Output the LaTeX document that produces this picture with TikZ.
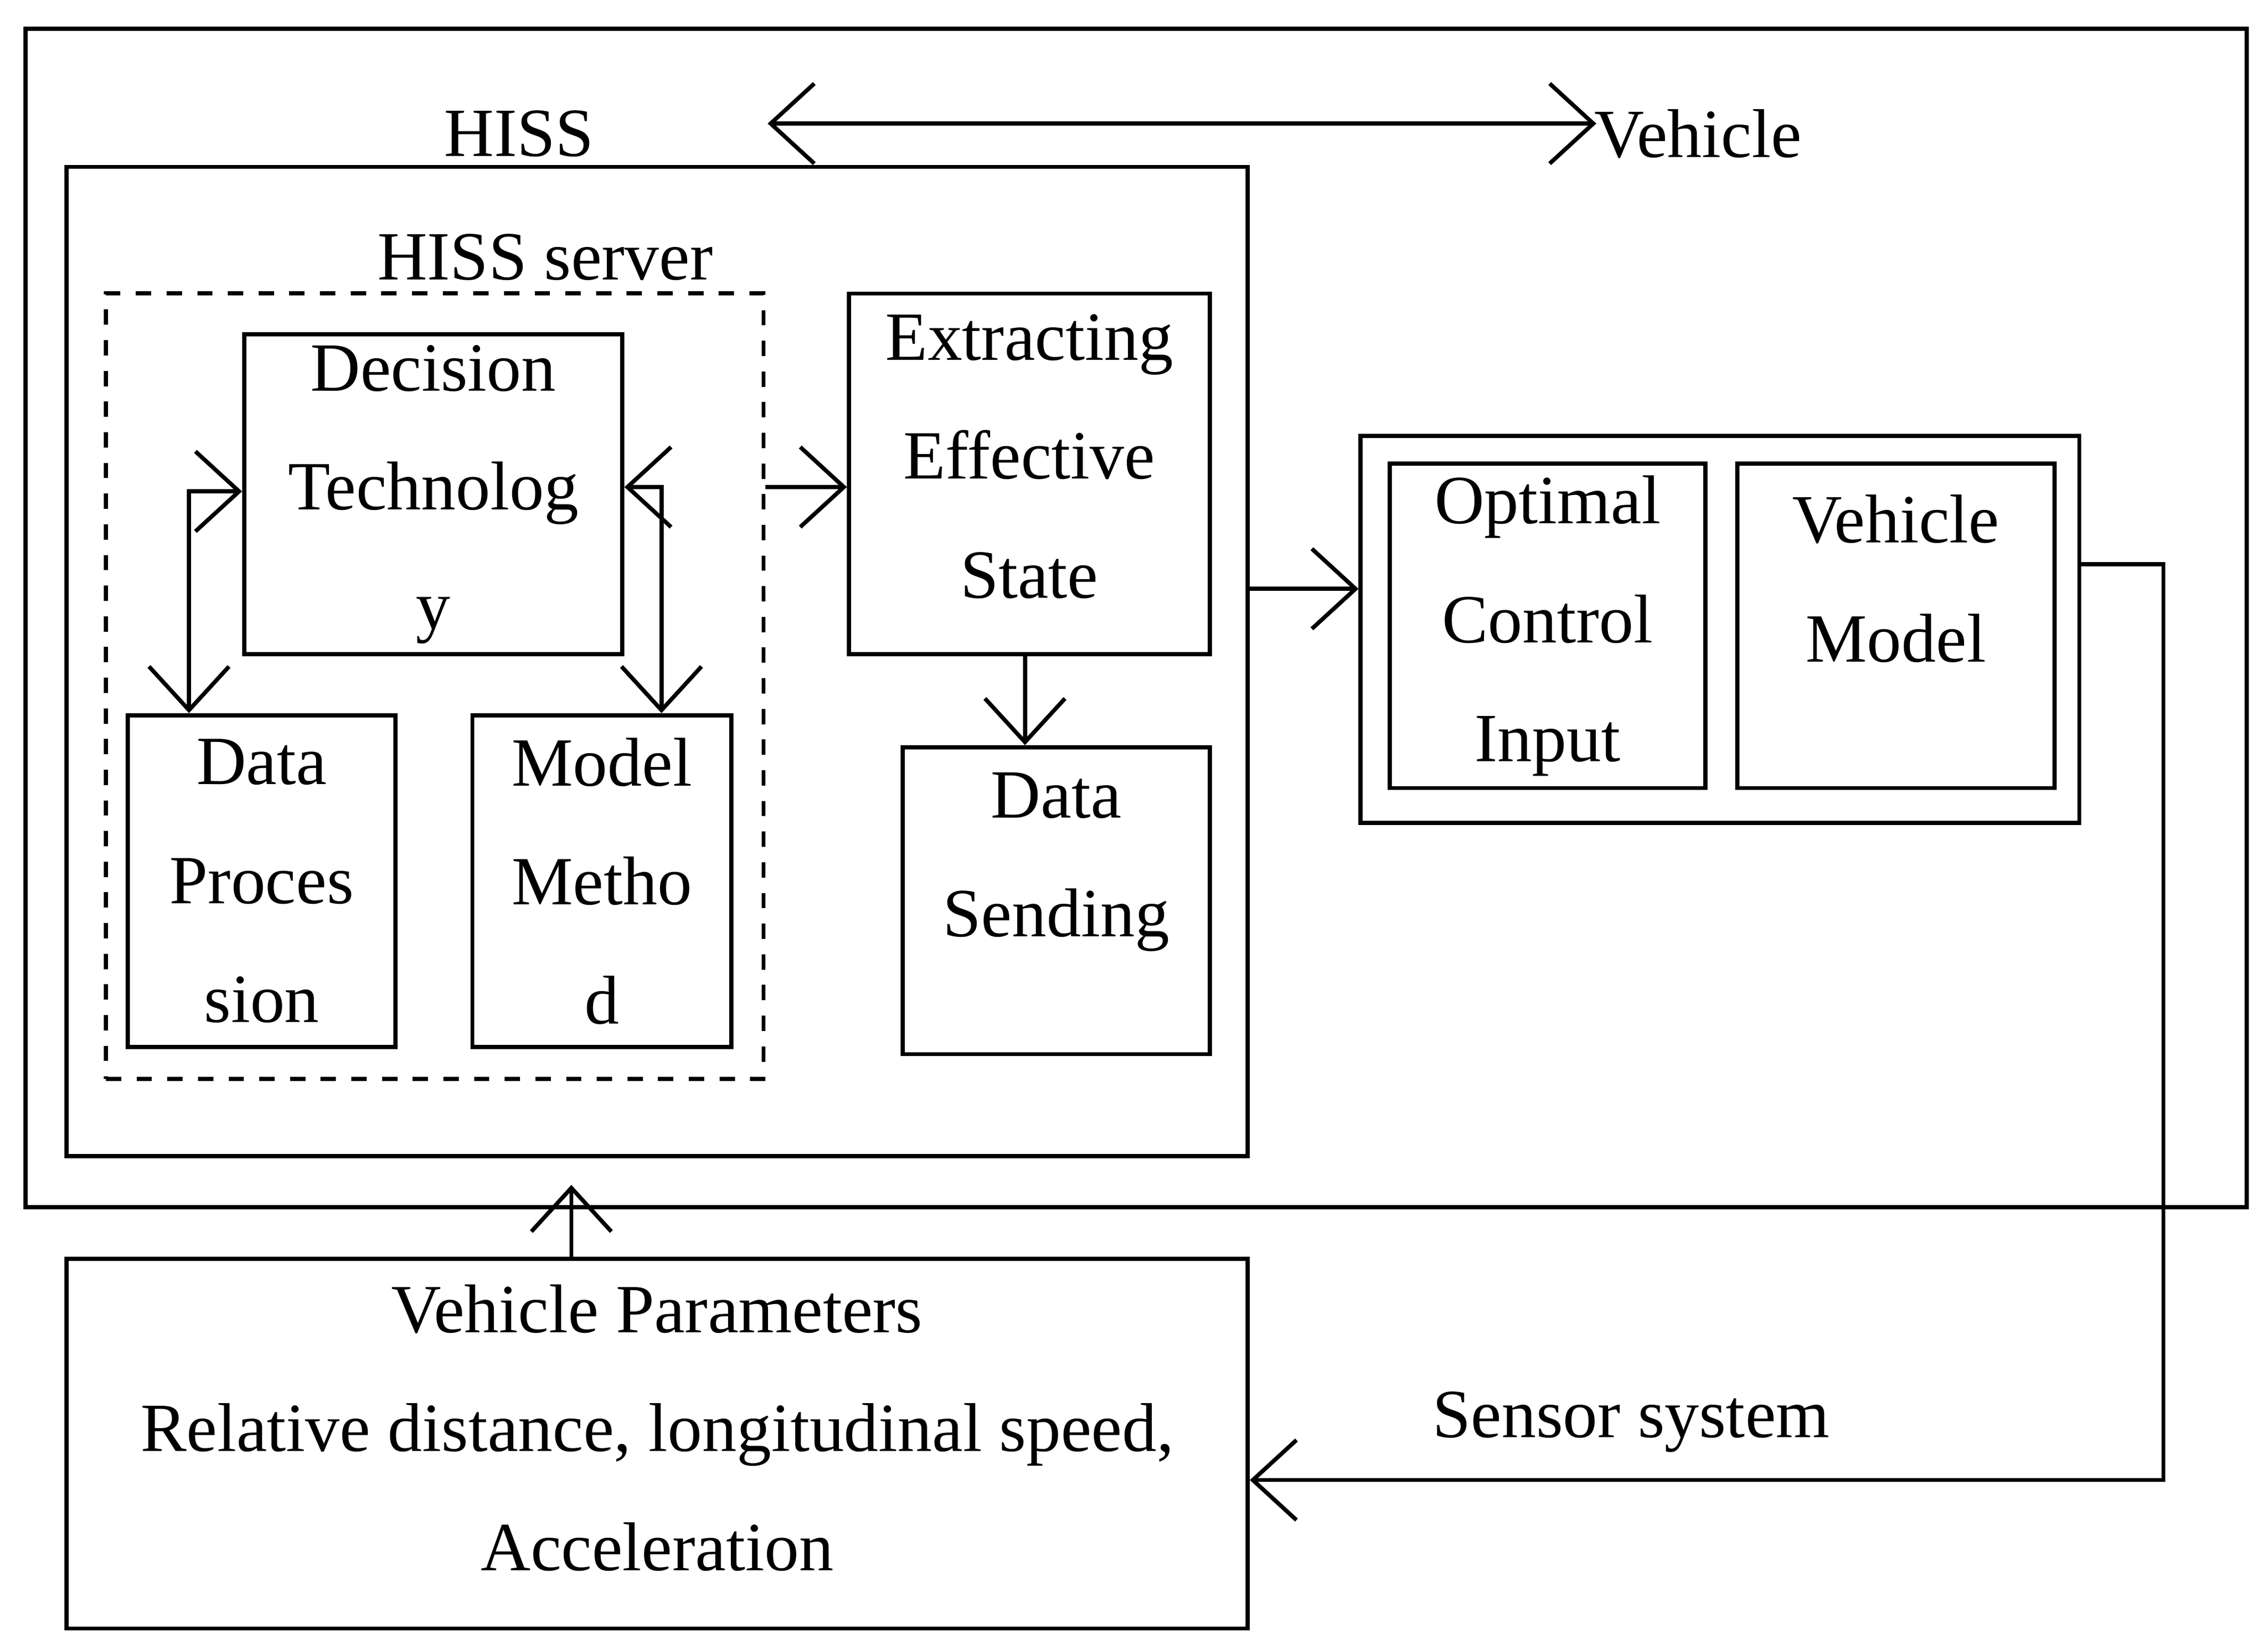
\documentclass[tikz,border=0pt]{standalone}
\usepackage{fontspec}
\setmainfont{Liberation Serif}
\usetikzlibrary{arrows.meta,positioning}
\begin{document}
\begin{tikzpicture}
  [
    x=0.01cm, y=-0.01cm,
    >={Straight Barb[length=3mm,width=5.5mm]},
    line width=0.8pt,
    box/.style   = {draw, rectangle, inner sep=0pt, align=center},
    txt/.style   = {align=center, inner sep=0pt},
  ]
\useasboundingbox (0,0) rectangle (1560,1134);
\fontsize{13.5}{19}\selectfont

%Outer frame and HISS box
\node[box, minimum width=15.27cm, minimum height=8.10cm] (outer) at (781.5,425) {};
\node[box, minimum width=8.12cm, minimum height=6.80cm] (hiss) at (452,455) {};
\node[txt] (hisslbl) at (357,92) {HISS};
\node[txt] (vehlbl) at (1168,92) {Vehicle};
\coordinate (hl) at (528,85);
\coordinate (hr) at (1098,85);
\draw[<->] (hl) -- (hr);

%HISS server
\node[txt] (srvlbl) at (375,177) {HISS server};
\node[box, dashed, minimum width=4.52cm, minimum height=5.40cm] (srv) at (299,472) {};
\node[box, minimum width=2.60cm, minimum height=2.20cm] (dec) at (298,340)
  {Decision\\[1.5mm]Technolog\\[1.5mm]y};
\node[box, minimum width=1.84cm, minimum height=2.28cm] (dp) at (180,606)
  {Data\\[1.5mm]Proces\\[1.5mm]sion};
\node[box, minimum width=1.78cm, minimum height=2.28cm] (mm) at (414,606)
  {Model\\[1.5mm]Metho\\[1.5mm]d};
\coordinate (lc) at (130,338);
\coordinate (rc) at (455,335);
\draw[<->] (dec.west |- lc) -- (lc) -- (dp.north -| lc);
\draw[<->] (dec.east |- rc) -- (rc) -- (mm.north -| rc);

%Extracting and sending
\node[box, minimum width=2.48cm, minimum height=2.48cm] (ext) at (708,326) {};
\node[txt] (extlbl) at (708,314) {Extracting\\[1.5mm]Effective\\[1.5mm]State};
\node[box, minimum width=2.11cm, minimum height=2.11cm] (snd) at (726.5,619.5) {};
\node[txt] (sndlbl) at (726.5,593) {Data\\[1.5mm]Sending};
\draw[->] (srv.east |- 0,335) -- (ext.west |- 0,335);
\draw[->] (ext.south -| 705,0) -- (snd.north -| 705,0);

%Vehicle side
\node[box, minimum width=4.94cm, minimum height=2.66cm] (vout) at (1183,433) {};
\node[box, minimum width=2.17cm, minimum height=2.23cm] (oci) at (1064.5,430.5)
  {Optimal\\[1.5mm]Control\\[1.5mm]Input};
\node[box, minimum width=2.18cm, minimum height=2.23cm] (vm) at (1304,430.5) {};
\node[txt] (vmlbl) at (1304,398) {Vehicle\\[1.5mm]Model};
\draw[->] (hiss.east |- 0,405) -- (vout.west |- 0,405);

%Parameters and sensor loop
\node[box, minimum width=8.12cm, minimum height=2.54cm] (par) at (452,993) {};
\node[txt] (parlbl) at (452,982)
  {Vehicle Parameters\\[1.5mm]Relative distance, longitudinal speed,\\[1.5mm]Acceleration};
\node[txt] (senslbl) at (1122,978) {Sensor system};
\coordinate (s1) at (1488,388);
\coordinate (s2) at (1488,1018);
\draw[->] (vout.east |- s1) -- (s1) -- (s2) -- (par.east |- s2);
\coordinate (pu) at (393,815);
\draw[->] (par.north -| pu) -- (pu);
\end{tikzpicture}
\end{document}
